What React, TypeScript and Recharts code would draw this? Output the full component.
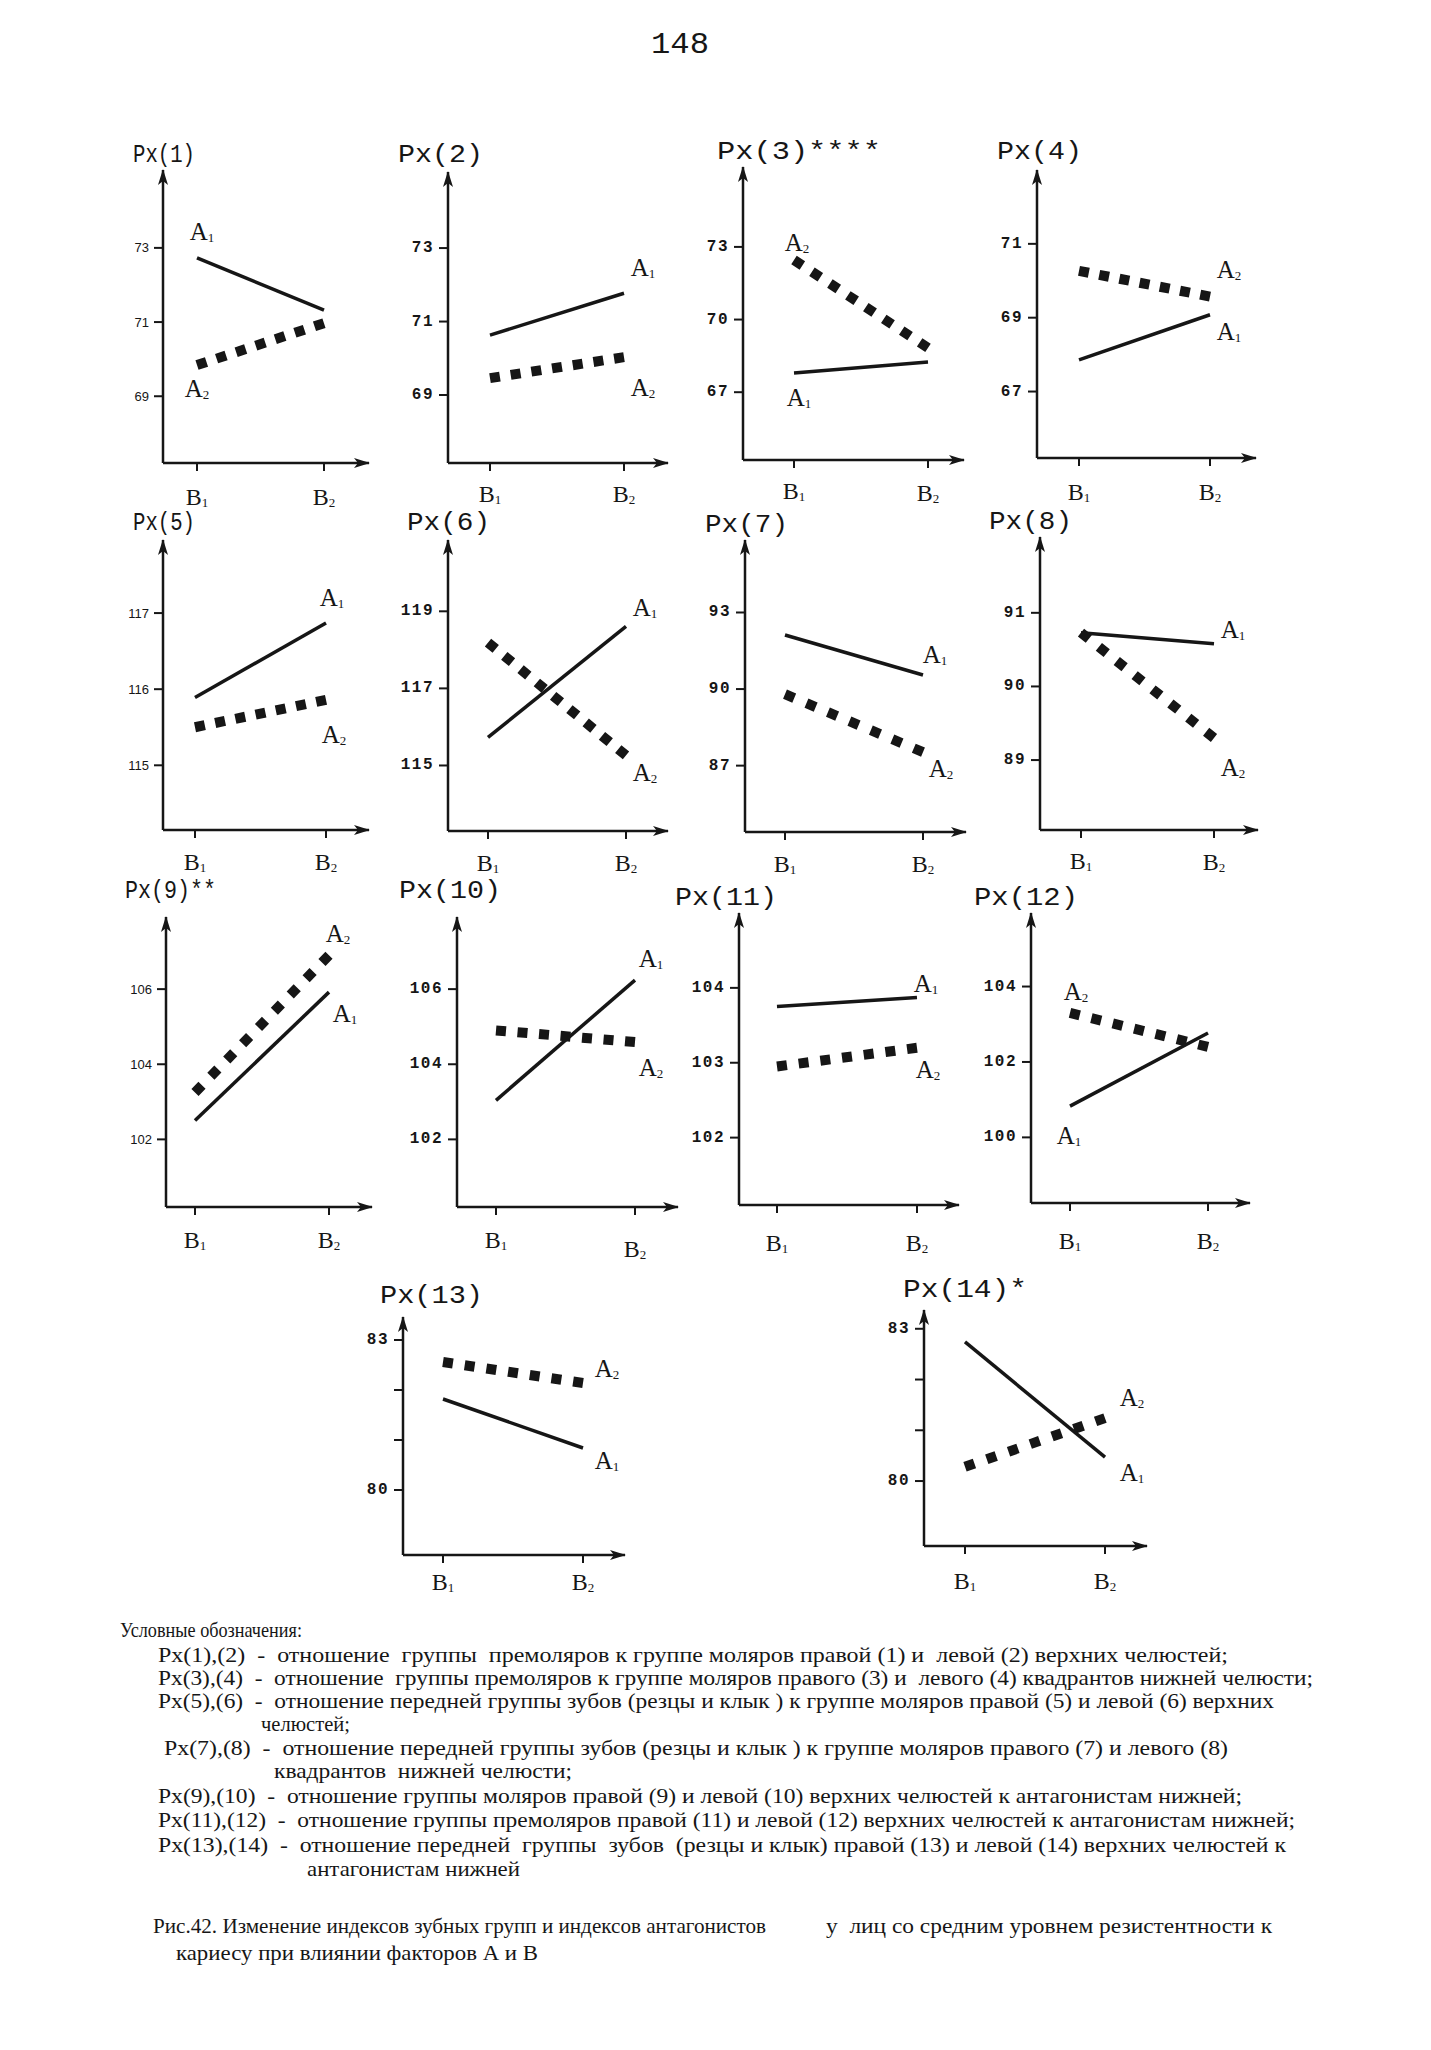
import React from 'react';
import { LineChart, Line, XAxis, YAxis } from 'recharts';

// categories on the x axis and the two factor levels
const categories = ['B1', 'B2'];
const seriesNames = ['A1', 'A2'];

// values, [B1, B2]
const px1A1 = [72.73, 71.32];
const px1A2 = [69.84, 70.97];
const px2A1 = [70.63, 71.77];
const px2A2 = [69.46, 70.03];
const px3A1 = [67.79, 68.25];
const px3A2 = [72.46, 68.83];
const px4A1 = [67.86, 69.08];
const px4A2 = [70.27, 69.57];
const px5A1 = [115.89, 116.87];
const px5A2 = [115.5, 115.86];
const px6A1 = [115.73, 118.61];
const px6A2 = [118.19, 115.26];
const px7A1 = [92.12, 90.55];
const px7A2 = [89.8, 87.53];
const px8A1 = [90.73, 90.58];
const px8A2 = [90.73, 89.3];
const px9A1 = [102.5, 105.92];
const px9A2 = [103.25, 106.9];
const px10A1 = [103.04, 106.24];
const px10A2 = [104.9, 104.59];
const px11A1 = [103.75, 103.87];
const px11A2 = [102.95, 103.2];
const px12A1 = [100.83, 102.77];
const px12A2 = [103.3, 102.4];
const px13A1 = [81.82, 80.84];
const px13A2 = [82.56, 82.14];
const px14A1 = [82.74, 80.47];
const px14A2 = [80.28, 81.24];

// y tick values
const px1Ticks = [69, 71, 73];
const px2Ticks = [69, 71, 73];
const px3Ticks = [67, 70, 73];
const px4Ticks = [67, 69, 71];
const px5Ticks = [115, 116, 117];
const px6Ticks = [115, 117, 119];
const px7Ticks = [87, 90, 93];
const px8Ticks = [89, 90, 91];
const px9Ticks = [102, 104, 106];
const px10Ticks = [102, 104, 106];
const px11Ticks = [102, 103, 104];
const px12Ticks = [100, 102, 104];
const px13Ticks = [80, 81, 82, 83];
const px14Ticks = [80, 81, 82, 83];
const labelledTicks = [80, 83];

const titles = [
  'Px(1)', 'Px(2)', 'Px(3)****', 'Px(4)',
  'Px(5)', 'Px(6)', 'Px(7)', 'Px(8)',
  'Px(9)**', 'Px(10)', 'Px(11)', 'Px(12)',
  'Px(13)', 'Px(14)*',
];

const legendLines = [
  'Условные обозначения:',
  'Px(1),(2)  -  отношение  группы  премоляров к группе моляров правой (1) и  левой (2) верхних челюстей;',
  'Px(3),(4)  -  отношение  группы премоляров к группе моляров правого (3) и  левого (4) квадрантов нижней челюсти;',
  'Px(5),(6)  -  отношение передней группы зубов (резцы и клык ) к группе моляров правой (5) и левой (6) верхних',
  'челюстей;',
  'Px(7),(8)  -  отношение передней группы зубов (резцы и клык ) к группе моляров правого (7) и левого (8)',
  'квадрантов  нижней челюсти;',
  'Px(9),(10)  -  отношение группы моляров правой (9) и левой (10) верхних челюстей к антагонистам нижней;',
  'Px(11),(12)  -  отношение группы премоляров правой (11) и левой (12) верхних челюстей к антагонистам нижней;',
  'Px(13),(14)  -  отношение передней  группы  зубов  (резцы и клык) правой (13) и левой (14) верхних челюстей к',
  'антагонистам нижней',
];
// [left, right, centre y]
const legendPos = [
  [120, 302, 1629], [158, 1228, 1654], [158, 1313, 1677], [158, 1274, 1700],
  [261, 350, 1723], [164, 1228, 1747], [274, 572, 1770], [158, 1242, 1795],
  [158, 1295, 1819], [158, 1286, 1844], [307, 520, 1868],
];

const captionParts = [
  'Рис.42. Изменение индексов зубных групп и индексов антагонистов',
  'у  лиц со средним уровнем резистентности к',
  'кариесу при влиянии факторов А и В',
];
const captionPos = [
  [153, 766, 1925], [826, 1272, 1925], [176, 538, 1952],
];

const INK = '#161616';

type LabelPos = { idx: number; dx: number; dy: number };
type Spec = {
  title: string;
  a1: number[];
  a2: number[];
  ticks: number[];
  domain: [number, number];
  axisX: number; top: number; axisY: number; right: number; b1: number; b2: number;
  tx: number; ty: number; tw: number;
  l1: LabelPos; l2: LabelPos;
  bDy: number[];
  narrow?: boolean;
  sparse?: boolean;
};

const L = (idx: number, dx: number, dy: number): LabelPos => ({ idx, dx, dy });

const specs: Spec[] = [
  { title: titles[0], a1: px1A1, a2: px1A2, ticks: px1Ticks, domain: [67.2, 75.1],
    axisX: 163, top: 170, axisY: 463, right: 369, b1: 197, b2: 324,
    tx: 133, ty: 155, tw: 62, l1: L(0, 5, -26), l2: L(0, 0, 23), bDy: [34, 34], narrow: true },
  { title: titles[1], a1: px2A1, a2: px2A2, ticks: px2Ticks, domain: [67.15, 75.07],
    axisX: 448, top: 172, axisY: 463, right: 668, b1: 490, b2: 624,
    tx: 398, ty: 155, tw: 85, l1: L(1, 19, -26), l2: L(1, 19, 30), bDy: [31, 31] },
  { title: titles[2], a1: px3A1, a2: px3A2, ticks: px3Ticks, domain: [64.2, 76.3],
    axisX: 743, top: 167, axisY: 460, right: 964, b1: 794, b2: 928,
    tx: 717, ty: 152, tw: 164, l1: L(0, 5, 24), l2: L(0, 3, -17), bDy: [31, 33] },
  { title: titles[3], a1: px4A1, a2: px4A2, ticks: px4Ticks, domain: [65.2, 73],
    axisX: 1037, top: 170, axisY: 458, right: 1256, b1: 1079, b2: 1210,
    tx: 997, ty: 152, tw: 85, l1: L(1, 19, 17), l2: L(1, 19, -27), bDy: [34, 34] },
  { title: titles[4], a1: px5A1, a2: px5A2, ticks: px5Ticks, domain: [114.15, 117.96],
    axisX: 163, top: 540, axisY: 830, right: 369, b1: 195, b2: 326,
    tx: 133, ty: 523, tw: 62, l1: L(1, 6, -25), l2: L(1, 8, 35), bDy: [32, 32], narrow: true },
  { title: titles[5], a1: px6A1, a2: px6A2, ticks: px6Ticks, domain: [113.3, 120.85],
    axisX: 448, top: 540, axisY: 831, right: 668, b1: 488, b2: 626,
    tx: 407, ty: 523, tw: 83, l1: L(1, 19, -19), l2: L(1, 19, 17), bDy: [32, 32] },
  { title: titles[6], a1: px7A1, a2: px7A2, ticks: px7Ticks, domain: [84.4, 95.84],
    axisX: 745, top: 540, axisY: 832, right: 966, b1: 785, b2: 923,
    tx: 705, ty: 525, tw: 83, l1: L(1, 12, -21), l2: L(1, 18, 16), bDy: [32, 32] },
  { title: titles[7], a1: px8A1, a2: px8A2, ticks: px8Ticks, domain: [88.05, 92.03],
    axisX: 1040, top: 537, axisY: 830, right: 1258, b1: 1081, b2: 1214,
    tx: 989, ty: 522, tw: 83, l1: L(1, 19, -14), l2: L(1, 19, 30), bDy: [31, 32] },
  { title: titles[8], a1: px9A1, a2: px9A2, ticks: px9Ticks, domain: [100.2, 107.92],
    axisX: 166, top: 917, axisY: 1207, right: 372, b1: 195, b2: 329,
    tx: 125, ty: 891, tw: 91, l1: L(1, 16, 21), l2: L(1, 9, -22), bDy: [33, 33], narrow: true },
  { title: titles[9], a1: px10A1, a2: px10A2, ticks: px10Ticks, domain: [100.2, 107.92],
    axisX: 457, top: 917, axisY: 1207, right: 678, b1: 496, b2: 635,
    tx: 399, ty: 891, tw: 102, l1: L(1, 16, -22), l2: L(1, 16, 25), bDy: [33, 42] },
  { title: titles[10], a1: px11A1, a2: px11A2, ticks: px11Ticks, domain: [101.1, 105],
    axisX: 739, top: 913, axisY: 1205, right: 959, b1: 777, b2: 917,
    tx: 675, ty: 898, tw: 102, l1: L(1, 9, -14), l2: L(1, 11, 22), bDy: [38, 38] },
  { title: titles[11], a1: px12A1, a2: px12A2, ticks: px12Ticks, domain: [98.26, 105.95],
    axisX: 1031, top: 913, axisY: 1203, right: 1250, b1: 1070, b2: 1208,
    tx: 974, ty: 898, tw: 104, l1: L(0, -1, 29), l2: L(0, 6, -21), bDy: [38, 38] },
  { title: titles[12], a1: px13A1, a2: px13A2, ticks: px13Ticks, domain: [78.7, 83.46],
    axisX: 403, top: 1317, axisY: 1555, right: 625, b1: 443, b2: 583,
    tx: 380, ty: 1296, tw: 103, l1: L(1, 24, 12), l2: L(1, 24, -15), bDy: [27, 27], sparse: true },
  { title: titles[13], a1: px14A1, a2: px14A2, ticks: px14Ticks, domain: [78.72, 83.37],
    axisX: 924, top: 1310, axisY: 1546, right: 1147, b1: 965, b2: 1105,
    tx: 903, ty: 1290, tw: 124, l1: L(1, 27, 15), l2: L(1, 27, -21), bDy: [35, 35], sparse: true },
];

const YAXIS_W = 70;
const M_TOP = 14;
const M_RIGHT = 12;
const XAXIS_H = 66;
const TICK_X = 8;
const DOT = 10;
const DOT_PERIOD = 22;

const SERIF = '"Liberation Serif", "DejaVu Serif", serif';
const MONO = '"Liberation Mono", "DejaVu Sans Mono", monospace';
const NARROW = '"Liberation Sans Narrow", "Liberation Sans", sans-serif';

const subText = (name: string, size: number, sub: number) => (
  <>
    {name[0]}
    <tspan fontSize={sub} dy={size * 0.22}>{name.slice(1)}</tspan>
  </>
);

// choose a gap so the square-dot line starts and ends on a full square
function dotPattern(s: Spec) {
  const pxPerUnit = (s.axisY - s.top) / (s.domain[1] - s.domain[0]);
  const dx = s.b2 - s.b1;
  const dy = (s.a2[1] - s.a2[0]) * pxPerUnit;
  const len = Math.sqrt(dx * dx + dy * dy);
  const n = Math.max(2, Math.round((len + DOT_PERIOD - DOT) / DOT_PERIOD));
  const gap = (len - DOT) / (n - 1) - DOT;
  return `${DOT} ${gap.toFixed(2)}`;
}

function Panel({ s }: { s: Spec }) {
  const data = categories.map((c, i) => ({ x: i, cat: c, a1: s.a1[i], a2: s.a2[i] }));
  const width = YAXIS_W + (s.right - s.axisX) + M_RIGHT;
  const height = M_TOP + (s.axisY - s.top) + XAXIS_H;

  const labelDot = (name: string, pos: LabelPos) => (p: any) => {
    const key = `${name}-${p.index}`;
    if (p.index !== pos.idx) return <g key={key} />;
    return (
      <text key={key} x={p.cx + pos.dx} y={p.cy + pos.dy} textAnchor="middle"
        dominantBaseline="central" fontFamily={SERIF} fontSize={25} fill={INK}>
        {subText(name, 25, 13)}
      </text>
    );
  };

  const xTick = (p: any) => {
    const i = p.payload.value as number;
    return (
      <text key={`xt-${i}`} x={p.x} y={p.y - TICK_X + s.bDy[i]} textAnchor="middle"
        dominantBaseline="central" fontFamily={SERIF} fontSize={24} fill={INK}>
        {subText(categories[i], 24, 13)}
      </text>
    );
  };

  const yTick = (p: any) => {
    const v = p.payload.value as number;
    const key = `yt-${v}`;
    if (s.sparse && !labelledTicks.includes(v)) return <g key={key} />;
    return (
      <text key={key} x={p.x} y={p.y} textAnchor="end" dominantBaseline="central"
        fontFamily={s.narrow ? NARROW : MONO} fontWeight={s.narrow ? 400 : 700}
        fontSize={s.narrow ? 13 : 16} letterSpacing={s.narrow ? 0 : 1.5} fill={INK}>
        {v}
      </text>
    );
  };

  const axisLineX = { stroke: INK, strokeWidth: 2.5, markerEnd: 'url(#arrowhead)' };
  const axisLineY = { stroke: INK, strokeWidth: 2.5, markerStart: 'url(#arrowhead)' };

  return (
    <div style={{ position: 'absolute', left: s.axisX - YAXIS_W, top: s.top - M_TOP }}>
      <LineChart width={width} height={height} data={data}
        margin={{ top: M_TOP, right: M_RIGHT, left: 0, bottom: 0 }}>
        <XAxis dataKey="x" type="number" domain={[0, 1]} ticks={[0, 1]} interval={0}
          padding={{ left: s.b1 - s.axisX, right: s.right - s.b2 }} height={XAXIS_H}
          tickSize={TICK_X} tickMargin={0} axisLine={axisLineX}
          tickLine={{ stroke: INK, strokeWidth: 2 }} tick={xTick} />
        <YAxis type="number" domain={s.domain} ticks={s.ticks} interval={0} width={YAXIS_W}
          tickSize={9} tickMargin={5} axisLine={axisLineY}
          tickLine={{ stroke: INK, strokeWidth: 2 }} tick={yTick} />
        <Line dataKey="a1" name={seriesNames[0]} type="linear" stroke={INK} strokeWidth={3.5}
          dot={labelDot(seriesNames[0], s.l1)} activeDot={false} isAnimationActive={false} />
        <Line dataKey="a2" name={seriesNames[1]} type="linear" stroke={INK} strokeWidth={DOT}
          strokeDasharray={dotPattern(s)} dot={labelDot(seriesNames[1], s.l2)} activeDot={false}
          isAnimationActive={false} />
      </LineChart>
    </div>
  );
}

export default function App() {
  return (
    <div style={{ position: 'absolute', left: 0, top: 0, width: 1431, height: 2050, background: '#fff', overflow: 'hidden' }}>
      <svg width={1431} height={2050} style={{ position: 'absolute', left: 0, top: 0 }}>
        <defs>
          <marker id="arrowhead" viewBox="0 0 16 10" refX="15" refY="5" markerWidth="16"
            markerHeight="10" markerUnits="userSpaceOnUse" orient="auto-start-reverse">
            <path d="M0,0 L16,5 L0,10 L4,5 z" fill={INK} />
          </marker>
        </defs>
        <text x={651} y={45} textLength={58} lengthAdjust="spacingAndGlyphs"
          dominantBaseline="central" fontFamily={MONO} fontSize={30} fill={INK}>148</text>
        {specs.map((s) => (
          <text key={s.title} x={s.tx} y={s.ty} textLength={s.tw} lengthAdjust="spacingAndGlyphs"
            dominantBaseline="central" fontFamily={MONO} fontSize={26} fill={INK}>
            {s.title}
          </text>
        ))}
        {legendLines.map((t, i) => (
          <text key={`lg-${i}`} x={legendPos[i][0]} y={legendPos[i][2]}
            textLength={legendPos[i][1] - legendPos[i][0]} lengthAdjust="spacingAndGlyphs"
            dominantBaseline="central" fontFamily={SERIF} fontSize={22} fill={INK}
            style={{ whiteSpace: 'pre' }}>
            {t}
          </text>
        ))}
        {captionParts.map((t, i) => (
          <text key={`cp-${i}`} x={captionPos[i][0]} y={captionPos[i][2]}
            textLength={captionPos[i][1] - captionPos[i][0]} lengthAdjust="spacingAndGlyphs"
            dominantBaseline="central" fontFamily={SERIF} fontSize={22} fill={INK}
            style={{ whiteSpace: 'pre' }}>
            {t}
          </text>
        ))}
      </svg>
      {specs.map((s) => (
        <Panel key={s.title} s={s} />
      ))}
    </div>
  );
}
